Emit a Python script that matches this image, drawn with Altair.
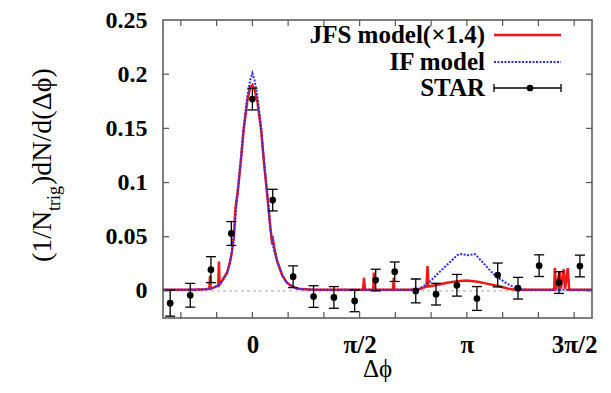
import math
import altair as alt
import pandas as pd

PI = math.pi

# ---------------- data ----------------
star_x = [-1.204, -0.91, -0.607, -0.308, 0.0, 0.298, 0.597, 0.896, 1.194, 1.498, 1.806,
          2.085, 2.393, 2.69, 2.995, 3.289, 3.593, 3.89, 4.2, 4.49, 4.797]
star_y = [-0.0113, -0.004, 0.0196, 0.053, 0.177, 0.0838, 0.0131, -0.0052, -0.006, -0.0092, 0.010,
          0.0177, 0.0, -0.003, 0.0052, -0.007, 0.0147, 0.0025, 0.0233, 0.0077, 0.023]
star_err = [0.012, 0.011, 0.012, 0.011, 0.010, 0.010, 0.010, 0.010, 0.010, 0.010, 0.010,
            0.009, 0.011, 0.010, 0.010, 0.011, 0.011, 0.010, 0.010, 0.010, 0.010]

if_x = [-1.31, -0.9, -0.66, -0.57, -0.5, -0.44, -0.37, -0.33, -0.3, -0.264, -0.22, -0.172,
        -0.129, -0.073, -0.03, 0.0, 0.03, 0.073, 0.129, 0.172, 0.22, 0.264, 0.3, 0.36, 0.44,
        0.5, 0.56, 0.66, 0.9, 2.4, 2.5, 2.6, 2.7, 2.8, 2.9, 3.0, 3.05, 3.15, 3.26, 3.35, 3.45,
        3.55, 3.65, 3.75, 3.85, 3.95, 4.98]
if_y = [0.001, 0.001, 0.0015, 0.0028, 0.005, 0.009, 0.016, 0.026, 0.036, 0.056, 0.0887, 0.119,
        0.15, 0.18, 0.195, 0.201, 0.195, 0.18, 0.15, 0.119, 0.0887, 0.058, 0.042, 0.028, 0.014,
        0.008, 0.0046, 0.002, 0.001, 0.001, 0.004, 0.0085, 0.015, 0.021, 0.027, 0.033, 0.034,
        0.033, 0.034, 0.028, 0.021, 0.0145, 0.010, 0.006, 0.003, 0.0012, 0.001]

jfs_x = [-1.31, -0.9, -0.7, -0.63, -0.62, -0.61, -0.57, -0.5, -0.49, -0.48, -0.44, -0.37,
         -0.33, -0.3, -0.27, -0.25, -0.23, -0.22, -0.172, -0.129, -0.073, -0.03, 0.0, 0.03,
         0.073, 0.129, 0.172, 0.22, 0.264, 0.285, 0.3, 0.32, 0.36, 0.44, 0.5, 0.56, 0.66, 0.9,
         1.62, 1.635, 1.65, 1.77, 1.78, 1.79, 2.06, 2.07, 2.08, 2.3, 2.44, 2.55, 2.565, 2.58,
         2.7, 2.85, 3.0, 3.14, 3.3, 3.45, 3.6, 3.75, 3.85, 4.42, 4.43, 4.45, 4.5, 4.52, 4.56,
         4.58, 4.62, 4.64, 4.98]
jfs_y = [0.001, 0.001, 0.0015, 0.002, 0.014, 0.002, 0.003, 0.005, 0.027, 0.006, 0.01, 0.017,
         0.026, 0.036, 0.05, 0.075, 0.085, 0.088, 0.118, 0.148, 0.176, 0.188, 0.19, 0.186,
         0.175, 0.148, 0.117, 0.087, 0.058, 0.046, 0.048, 0.04, 0.028, 0.014, 0.008, 0.005,
         0.002, 0.001, 0.001, 0.012, 0.001, 0.001, 0.017, 0.001, 0.001, 0.012, 0.001, 0.001,
         0.0015, 0.004, 0.023, 0.004, 0.0055, 0.0075, 0.009, 0.0095, 0.0085, 0.0065, 0.0045,
         0.002, 0.001, 0.001, 0.021, 0.002, 0.018, 0.002, 0.02, 0.002, 0.021, 0.001, 0.001]

x_tick_deg = [-60, -30, 0, 30, 60, 90, 120, 150, 180, 210, 240, 270]
x_label_values = [0.0, PI / 2, PI, 3 * PI / 2]
x_label_texts = ["0", "π/2", "π", "3π/2"]
y_tick_values = [0.0, 0.05, 0.1, 0.15, 0.2, 0.25]

legend_labels = ["JFS model(×1.4)", "IF model", "STAR"]

# ---------------- styling ----------------
W, H = 429, 298
TOP = 12
RED = "#f01818"
BLUE = "#2a2aff"
FRAME = "#555555"
SERIF = "Liberation Serif"

xs = alt.Scale(domain=[-5 * PI / 12, 19 * PI / 12], nice=False, zero=False)
ys = alt.Scale(domain=[-0.025, 0.25], nice=False, zero=False)

label_expr = " : ".join(
    f"abs(datum.value - {v}) < 0.01 ? '{t}'" for v, t in zip(x_label_values, x_label_texts)
) + " : ''"

xaxis = alt.Axis(values=x_label_values, labelExpr=label_expr, title=None, grid=False,
                 domain=False, ticks=False, tickSize=0, labelPadding=14,
                 labelFont=SERIF, labelFontWeight="bold", labelFontSize=25,
                 labelColor="black", labelFlush=False)
yaxis = alt.Axis(values=y_tick_values, format="~g", title=None, grid=False, domain=False,
                 ticks=False, tickSize=0, labelPadding=16, labelFont=SERIF,
                 labelFontWeight="bold", labelFontSize=24, labelColor="black",
                 labelFlush=False)

X = alt.X("x:Q", scale=xs, axis=xaxis)
Y = alt.Y("y:Q", scale=ys, axis=yaxis)

df_if = pd.DataFrame({"x": if_x, "y": if_y})
df_jfs = pd.DataFrame({"x": jfs_x, "y": jfs_y})
df_star = pd.DataFrame({"x": star_x, "y": star_y, "e": star_err})
df_star["lo"] = df_star["y"] - df_star["e"]
df_star["hi"] = df_star["y"] + df_star["e"]

one = pd.DataFrame({"k": [0]})

zero_line = alt.Chart(pd.DataFrame({"y": [0.0]})).mark_rule(
    color="#aaaaaa", strokeDash=[3, 3], strokeWidth=1).encode(y=Y)

jfs = alt.Chart(df_jfs).mark_line(color=RED, strokeWidth=2.5, clip=True).encode(
    x=X, y=Y, order="x:Q")
ifm = alt.Chart(df_if).mark_line(color=BLUE, strokeWidth=2, strokeDash=[2, 1.5],
                                 clip=True).encode(x=X, y=Y, order="x:Q")

ebar = alt.Chart(df_star).mark_rule(color="black", strokeWidth=1.3).encode(
    x=X, y=alt.Y("lo:Q", scale=ys, axis=yaxis), y2="hi:Q")
cap_lo = alt.Chart(df_star).mark_tick(orient="horizontal", size=10, thickness=1.3,
                                      color="black", opacity=1).encode(
    x=X, y=alt.Y("lo:Q", scale=ys, axis=yaxis))
cap_hi = alt.Chart(df_star).mark_tick(orient="horizontal", size=10, thickness=1.3,
                                      color="black", opacity=1).encode(
    x=X, y=alt.Y("hi:Q", scale=ys, axis=yaxis))
pts = alt.Chart(df_star).mark_point(filled=True, size=45, color="black", opacity=1).encode(
    x=X, y=Y)

# inward ticks
df_xt = pd.DataFrame({"x": [d * PI / 180 for d in x_tick_deg]})
df_yt = pd.DataFrame({"y": y_tick_values[:-1]})
TL = 6
tick_layers = [
    alt.Chart(df_xt).mark_rule(color=FRAME, strokeWidth=1.2).encode(
        x=X, y=alt.value(H), y2=alt.value(H - TL)),
    alt.Chart(df_xt).mark_rule(color=FRAME, strokeWidth=1.2).encode(
        x=X, y=alt.value(0), y2=alt.value(TL)),
    alt.Chart(df_yt).mark_rule(color=FRAME, strokeWidth=1.2).encode(
        y=Y, x=alt.value(0), x2=alt.value(TL)),
    alt.Chart(df_yt).mark_rule(color=FRAME, strokeWidth=1.2).encode(
        y=Y, x=alt.value(W), x2=alt.value(W - TL)),
]

# legend (top right, gnuplot style: label then sample); page rows 35, 62, 88
leg_rows = [35 - 8 - TOP, 62 - 8 - TOP, 88 - 8 - TOP]
leg_text_x = 322
s0, s1 = 331, 398
legend_layers = []
for lab, ry in zip(legend_labels, leg_rows):
    legend_layers.append(
        alt.Chart(one).mark_text(align="right", baseline="middle", font=SERIF,
                                 fontWeight="bold", fontSize=25, color="black",
                                 text=lab).encode(x=alt.value(leg_text_x), y=alt.value(ry)))
legend_layers += [
    alt.Chart(one).mark_rule(color=RED, strokeWidth=2.5).encode(
        x=alt.value(s0), x2=alt.value(s1), y=alt.value(leg_rows[0])),
    alt.Chart(one).mark_rule(color=BLUE, strokeWidth=2, strokeDash=[2, 1.5]).encode(
        x=alt.value(s0), x2=alt.value(s1), y=alt.value(leg_rows[1])),
    alt.Chart(one).mark_rule(color="black", strokeWidth=1.3).encode(
        x=alt.value(s0), x2=alt.value(s1), y=alt.value(leg_rows[2])),
    alt.Chart(one).mark_rule(color="black", strokeWidth=1.3).encode(
        x=alt.value(s0), y=alt.value(leg_rows[2] - 4), y2=alt.value(leg_rows[2] + 4)),
    alt.Chart(one).mark_rule(color="black", strokeWidth=1.3).encode(
        x=alt.value(s1), y=alt.value(leg_rows[2] - 4), y2=alt.value(leg_rows[2] + 4)),
    alt.Chart(one).mark_point(filled=True, size=45, color="black", opacity=1).encode(
        x=alt.value(367), y=alt.value(leg_rows[2])),
]

# axis titles (page coords converted to plot coords)
ytitle_layers = [
    alt.Chart(one).mark_text(angle=270, align="left", baseline="middle", font=SERIF,
                             fontSize=28, color="black", text="(1/N").encode(
        x=alt.value(-120), y=alt.value(262 - 8 - TOP)),
    alt.Chart(one).mark_text(angle=270, align="left", baseline="middle", font=SERIF,
                             fontSize=18, color="black", text="trig").encode(
        x=alt.value(-108), y=alt.value(211 - 8 - TOP)),
    alt.Chart(one).mark_text(angle=270, align="left", baseline="middle", font=SERIF,
                             fontSize=28, color="black", text=")dN/d(Δϕ)").encode(
        x=alt.value(-120), y=alt.value(185 - 8 - TOP)),
]
xtitle = alt.Chart(one).mark_text(align="center", baseline="middle", font=SERIF,
                                  fontSize=25, color="black", text="Δϕ").encode(
    x=alt.value(W / 2), y=alt.value(369 - 8 - TOP))

chart = alt.layer(
    zero_line, jfs, ifm, ebar, cap_lo, cap_hi, pts,
    *tick_layers, *legend_layers, *ytitle_layers, xtitle
).properties(
    width=W, height=H,
    autosize=alt.AutoSizeParams(type="none"),
    padding={"left": 155, "top": TOP, "right": 11, "bottom": 64},
    background="white",
).configure_view(stroke=FRAME, strokeWidth=1.5)

chart.save("out.html", embed_options={"renderer": "svg", "actions": False})
